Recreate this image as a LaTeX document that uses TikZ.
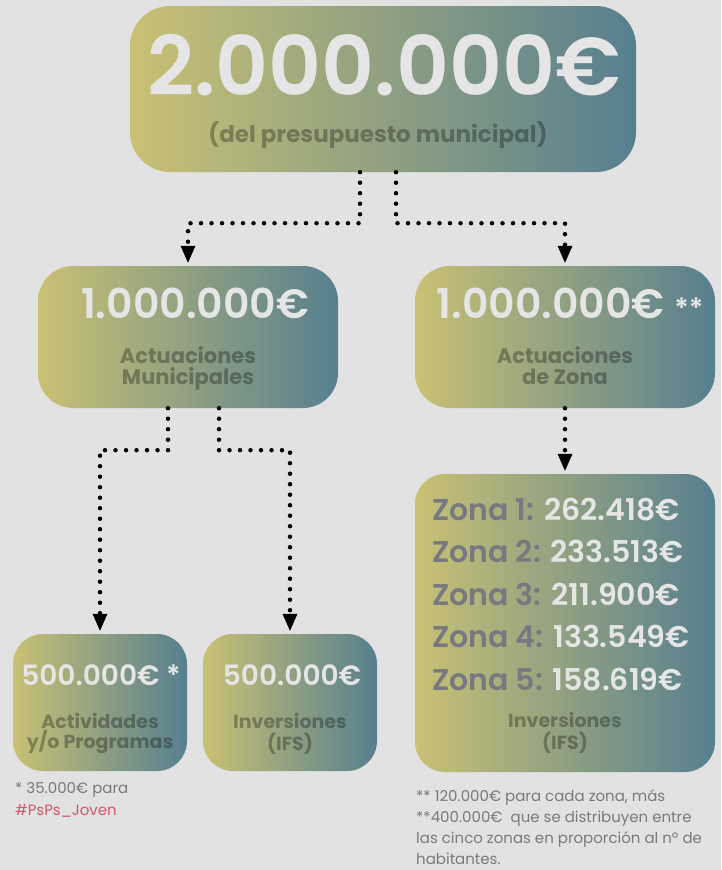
\documentclass[tikz,border=0pt]{standalone}
\usepackage{fontspec}
\setmainfont{Poppins}
\newfontfamily\medio{Poppins SemiBold}
\usetikzlibrary{arrows.meta}

\definecolor{fondo}{RGB}{226,226,226}
\definecolor{amarillo}{RGB}{201,193,116}
\definecolor{azul}{RGB}{86,127,143}
\definecolor{cifra}{RGB}{229,229,229}
\definecolor{zonagris}{RGB}{120,120,128}
\definecolor{nota}{RGB}{122,122,122}
\definecolor{rosa}{RGB}{214,86,106}

\begin{document}
\begin{tikzpicture}[x=1pt,y=-1pt,
	caja/.style={rounded corners=#1, left color=amarillo, right color=azul, inner sep=0pt},
	conector/.style={line width=4.5pt, line cap=round, dash pattern=on 0pt off 10.5pt,
		-{Triangle[width=15pt,length=17pt,line width=0pt]}, shorten >=3pt},
	numero/.style={text=cifra, anchor=base, inner sep=0pt},
	rotulo/.style={text=black, text opacity=0.3, anchor=base, inner sep=0pt},
	nota/.style={text=nota, anchor=base west, inner sep=0pt, font=\fontsize{15}{15}\selectfont}]
		\fill[fondo] (0,0) rectangle (721,870);
		\useasboundingbox (0,0) rectangle (721,870);
		% cajas
		\node[caja=40pt, minimum width=506pt, minimum height=166pt] (total) at (383,89) {};
		\node[caja=35pt, minimum width=300pt, minimum height=142pt] (munic) at (188,337) {};
		\node[caja=35pt, minimum width=300pt, minimum height=142pt] (zona) at (565,337) {};
		\node[caja=30pt, minimum width=174pt, minimum height=137pt] (activ) at (100,702.5) {};
		\node[caja=30pt, minimum width=174pt, minimum height=137pt] (inver) at (290,702.5) {};
		\node[caja=30pt, minimum width=300pt, minimum height=298pt] (zonas) at (565,623) {};
		% textos
		\node[numero, font=\medio\fontsize{82}{82}\selectfont] (t1) at (384,95) {2.000.000€};
		\node[rotulo, font=\bfseries\fontsize{23}{23}\selectfont] (t2) at (378,142) {(del presupuesto municipal)};
		\node[numero, font=\medio\fontsize{41}{41}\selectfont] (m1) at (195,318) {1.000.000€};
		\node[rotulo, font=\bfseries\fontsize{21}{21}\selectfont] (m2) at (188,363) {Actuaciones};
		\node[rotulo, font=\bfseries\fontsize{21}{21}\selectfont] (m3) at (188,384) {Municipales};
		\node[numero, font=\medio\fontsize{41}{41}\selectfont] (z1) at (570,318) {1.000.000€ {\fontsize{28}{28}\selectfont**}};
		\node[rotulo, font=\bfseries\fontsize{21}{21}\selectfont] (z2) at (565,363) {Actuaciones};
		\node[rotulo, font=\bfseries\fontsize{21}{21}\selectfont] (z3) at (565,384) {de Zona};
		\node[numero, font=\medio\fontsize{28}{28}\selectfont] (a1) at (101,685) {500.000€ *};
		\node[rotulo, font=\bfseries\fontsize{19}{19}\selectfont] (a2) at (100,728) {Actividades};
		\node[rotulo, font=\bfseries\fontsize{19}{19}\selectfont] (a3) at (100,748) {y/o Programas};
		\node[numero, font=\medio\fontsize{28}{28}\selectfont] (i1) at (292,685) {500.000€};
		\node[rotulo, font=\bfseries\fontsize{19}{19}\selectfont] (i2) at (290,728) {Inversiones};
		\node[rotulo, font=\bfseries\fontsize{19}{19}\selectfont] (i3) at (290,750) {(IFS)};
		\foreach \n/\y/\v in {1/520/262.418€, 2/562/233.513€, 3/605/211.900€, 4/647/133.549€, 5/690/158.619€}
			\node[numero, anchor=base west, font=\medio\fontsize{30}{30}\selectfont] (zl\n) at (432,\y) {\textcolor{zonagris}{Zona \n:} \v};
		\node[rotulo, font=\bfseries\fontsize{19}{19}\selectfont] (s1) at (565,727) {Inversiones};
		\node[rotulo, font=\bfseries\fontsize{19}{19}\selectfont] (s2) at (565,749) {(IFS)};
		% notas
		\node[nota] (n1) at (15,793) {* 35.000€ para};
		\node[nota, text=rosa] (n2) at (15,815) {\#PsPs\_Joven};
		\node[nota] (n3) at (416,801) {** 120.000€ para cada zona, más};
		\node[nota] (n4) at (416,822) {**400.000€ \ que se distribuyen entre};
		\node[nota] (n5) at (416,843) {las cinco zonas en proporción al nº de};
		\node[nota] (n6) at (416,864) {habitantes.};
		% conectores
		\draw[conector] ([xshift=-23pt]total.south) -- ++(0,51) -| (munic.north);
		\draw[conector] ([xshift=13pt]total.south) -- ++(0,51) -| (zona.north);
		\draw[conector] ([xshift=-20pt]munic.south) -- ++(0,42) -| (activ.north);
		\draw[conector] ([xshift=31pt]munic.south) -- ++(0,42) -| (inver.north);
		\draw[conector] (zona.south) -- (zonas.north);
\end{tikzpicture}
\end{document}
